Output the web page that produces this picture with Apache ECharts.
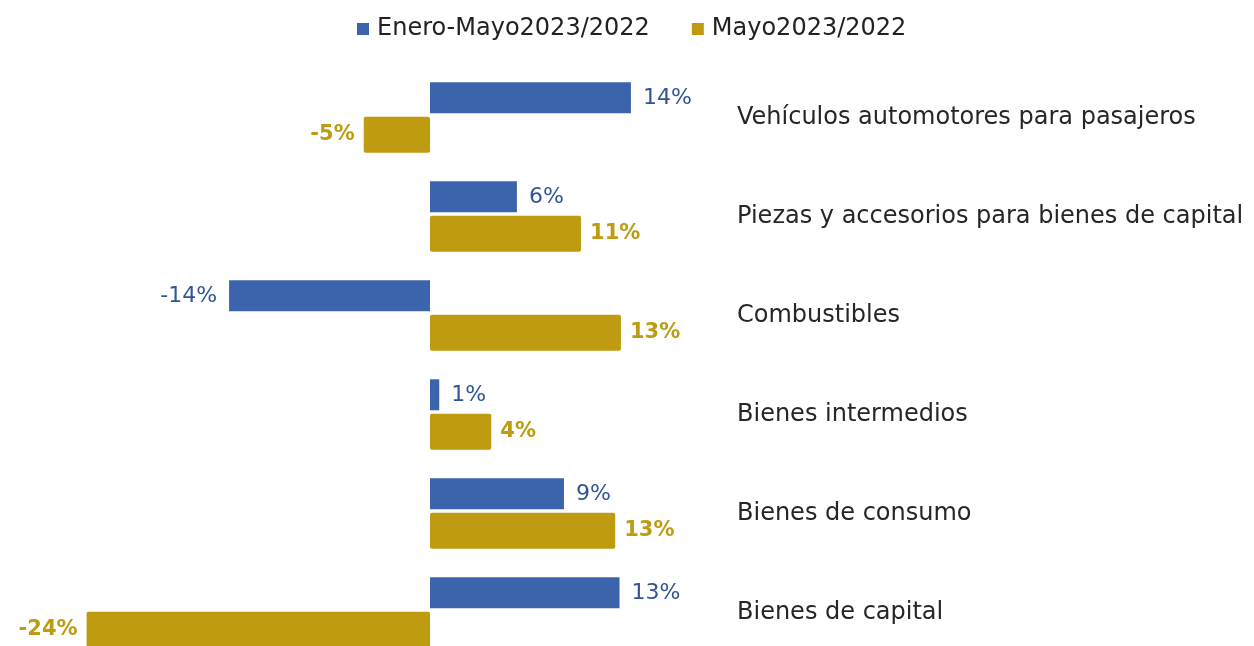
<!DOCTYPE html>
<html>
<head>
<meta charset="utf-8">
<script src="https://cdn.jsdelivr.net/npm/echarts@6/dist/echarts.min.js"></script>
<style>html,body{margin:0;padding:0;background:#fff;}#chart{width:1254px;height:646px;}</style>
</head>
<body>
<div id="chart"></div>
<script>
var categories = [
  'Vehículos automotores para pasajeros',
  'Piezas y accesorios para bienes de capital',
  'Combustibles',
  'Bienes intermedios',
  'Bienes de consumo',
  'Bienes de capital'
];
var seriesNames = ['Enero-Mayo2023/2022', 'Mayo2023/2022'];
var eneroMayo = [14.1, 6.1, -14.1, 0.65, 9.4, 13.3];
var mayo = [-4.65, 10.6, 13.4, 4.3, 13.0, -24.1];

var FONT = 'DejaVu Sans';
var BLUE = '#3C64AC';
var GOLD = '#BE9B11';

function withLabelSide(values, dist) {
  return values.map(function (v) {
    return { value: v, label: { position: v < 0 ? 'left' : 'right', distance: dist } };
  });
}

var chart = echarts.init(document.getElementById('chart'), null, { renderer: 'canvas' });
chart.setOption({
  animation: false,
  backgroundColor: '#ffffff',
  textStyle: { fontFamily: FONT },
  legend: {
    top: 12,
    left: 352,
    itemWidth: 12,
    itemHeight: 12,
    itemGap: 42,
    icon: 'rect',
    textStyle: { fontFamily: FONT, fontSize: 24, color: '#222222', padding: [0, 0, 0, 3] },
    data: seriesNames
  },
  grid: { left: 31, right: 539, top: 68, height: 594, outerBoundsMode: 'none', containLabel: false },
  xAxis: {
    type: 'value', min: -28, max: 20, show: false,
    splitLine: { show: false }
  },
  yAxis: {
    type: 'category', data: categories, inverse: true, position: 'right',
    axisLine: { show: false }, axisTick: { show: false },
    axisLabel: { margin: 22, align: 'left', fontFamily: FONT, fontSize: 24, color: '#262626' }
  },
  series: [
    {
      name: seriesNames[0], type: 'bar', barWidth: 31, barGap: '11%',
      itemStyle: { color: BLUE },
      label: {
        show: true, fontFamily: FONT, fontSize: 22, color: '#2F5597',
        formatter: function (p) { return Math.round(p.value) + '%'; }
      },
      data: withLabelSide(eneroMayo, 12)
    },
    {
      name: seriesNames[1], type: 'bar', barWidth: 36, barGap: '11%',
      itemStyle: { color: GOLD, borderRadius: 2 },
      label: {
        show: true, fontFamily: FONT, fontSize: 21, fontWeight: 'bold', color: '#BE9B11',
        formatter: function (p) { return Math.round(p.value) + '%'; }
      },
      data: withLabelSide(mayo, 9)
    }
  ]
});
</script>
</body>
</html>
